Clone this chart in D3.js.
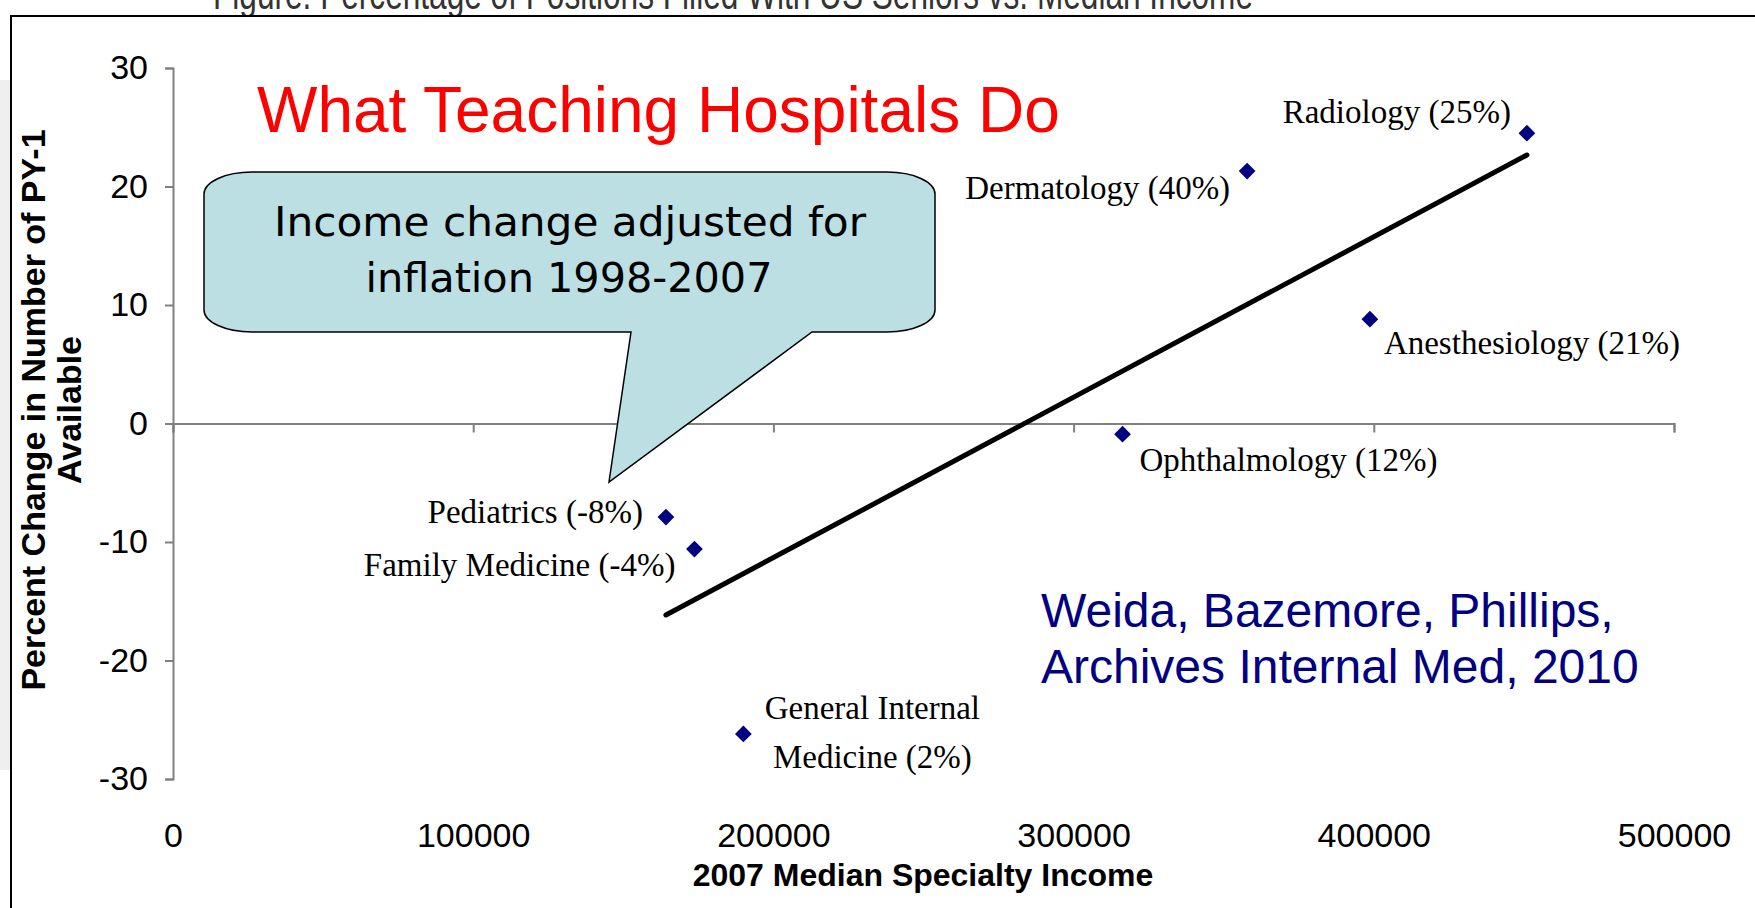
<!DOCTYPE html>
<html>
<head>
<meta charset="utf-8">
<script src="https://cdn.jsdelivr.net/npm/d3@7"></script>
<style>
    html, body { margin: 0; padding: 0; background: #fff; }
    svg { display: block; }
</style>
</head>
<body>
<svg id="chart" width="1755" height="908"></svg>
<script>
const specialties = [
    'Radiology',
    'Dermatology',
    'Anesthesiology',
    'Ophthalmology',
    'Pediatrics',
    'Family Medicine',
    'General Internal Medicine'
];
const medianIncome2007 = [451000, 357800, 398700, 316300, 164200, 173700, 190000];
const pctChangePY1 = [24.5, 21.3, 8.8, -0.9, -7.9, -10.6, -26.2];
const incomeChange = [25, 40, 21, 12, -8, -4, 2];

const xTicks = [0, 100000, 200000, 300000, 400000, 500000];
const yTicks = [-30, -20, -10, 0, 10, 20, 30];

const width = 1755;
const height = 908;

// where each label sits relative to its marker
const labelLayout = {
    'Radiology': { anchor: 'end', dx: -16, dy: [-10] },
    'Dermatology': { anchor: 'end', dx: -17, dy: [28] },
    'Anesthesiology': { anchor: 'start', dx: 14, dy: [35] },
    'Ophthalmology': { anchor: 'start', dx: 17, dy: [37] },
    'Pediatrics': { anchor: 'end', dx: -23, dy: [6] },
    'Family Medicine': { anchor: 'end', dx: -19, dy: [27] },
    'General Internal Medicine': { anchor: 'middle', dx: 129, dy: [-15, 34], lines: ['General Internal', 'Medicine'] }
};

const points = specialties.map((name, i) => ({
    name,
    income: medianIncome2007[i],
    change: pctChangePY1[i],
    incomeChange: incomeChange[i]
}));

const svg = d3.select('#chart');

const x = d3.scaleLinear()
    .domain([xTicks[0], xTicks[xTicks.length - 1]])
    .range([173, 1674]);

const y = d3.scaleLinear()
    .domain([yTicks[0], yTicks[yTicks.length - 1]])
    .range([779, 68]);

const axisColor = '#808080';
const sans = 'Liberation Sans, Arial, Helvetica, sans-serif';
const serif = 'Liberation Serif, Times New Roman, serif';

// slide title, mostly hidden behind the top of the frame
svg.append('clipPath')
    .attr('id', 'topClip')
    .append('rect')
    .attr('x', 0).attr('y', 0)
    .attr('width', width).attr('height', 16);

svg.append('text')
    .attr('clip-path', 'url(#topClip)')
    .attr('x', 213)
    .attr('y', 9)
    .attr('font-family', sans)
    .attr('font-size', 44)
    .attr('fill', '#333')
    .attr('textLength', 1040)
    .attr('lengthAdjust', 'spacingAndGlyphs')
    .text('Figure: Percentage of Positions Filled With US Seniors vs. Median Income');

svg.append('rect')
    .attr('x', 0).attr('y', 80)
    .attr('width', 10).attr('height', 690)
    .attr('fill', '#efefef');

svg.append('path')
    .attr('d', `M11,${height}V16H${width}`)
    .attr('fill', 'none')
    .attr('stroke', '#000')
    .attr('stroke-width', 2);

const plainNumber = d => String(d);

// y axis
svg.append('g')
    .attr('class', 'y-axis')
    .attr('transform', `translate(${x(0)},0)`)
    .call(d3.axisLeft(y).tickValues(yTicks).tickSize(8).tickSizeOuter(8).tickPadding(17).tickFormat(plainNumber))
    .call(g => g.selectAll('path, line').attr('stroke', axisColor).attr('stroke-width', 2))
    .call(g => g.selectAll('text')
        .attr('font-family', sans)
        .attr('font-size', 34)
        .attr('fill', '#000'));

// x axis sits on the zero line, labels at the bottom
svg.append('g')
    .attr('class', 'x-axis')
    .attr('transform', `translate(0,${y(0)})`)
    .call(d3.axisBottom(x).tickValues(xTicks).tickSize(9).tickSizeOuter(9).tickFormat(''))
    .call(g => g.selectAll('path, line').attr('stroke', axisColor).attr('stroke-width', 2));

svg.append('g')
    .attr('class', 'x-labels')
    .attr('transform', 'translate(0,815)')
    .call(d3.axisBottom(x).tickValues(xTicks).tickSize(0).tickPadding(8).tickFormat(plainNumber))
    .call(g => g.select('.domain').remove())
    .call(g => g.selectAll('text')
        .attr('font-family', sans)
        .attr('font-size', 34)
        .attr('fill', '#000'));

svg.append('text')
    .attr('x', 923)
    .attr('y', 886)
    .attr('text-anchor', 'middle')
    .attr('font-family', sans)
    .attr('font-size', 32)
    .attr('font-weight', 'bold')
    .text('2007 Median Specialty Income');

const yTitle = svg.append('text')
    .attr('transform', 'translate(0,410) rotate(-90)')
    .attr('text-anchor', 'middle')
    .attr('font-family', sans)
    .attr('font-size', 34)
    .attr('font-weight', 'bold');

yTitle.append('tspan').attr('x', 0).attr('y', 45).text('Percent Change in Number of PY-1');
yTitle.append('tspan').attr('x', 0).attr('y', 81).text('Available');

// linear trendline (least squares), drawn over the x extent of the data
const meanX = d3.mean(points, d => d.income);
const meanY = d3.mean(points, d => d.change);
const slope = d3.sum(points, d => (d.income - meanX) * (d.change - meanY)) /
    d3.sum(points, d => (d.income - meanX) ** 2);
const trend = d3.extent(points, d => d.income)
    .map(v => ({ income: v, change: meanY + slope * (v - meanX) }));

svg.append('path')
    .datum(trend)
    .attr('d', d3.line().x(d => x(d.income)).y(d => y(d.change)))
    .attr('fill', 'none')
    .attr('stroke', '#000')
    .attr('stroke-width', 5)
    .attr('stroke-linecap', 'round');

// markers
svg.append('g')
    .selectAll('path')
    .data(points)
    .join('path')
    .attr('d', d3.symbol(d3.symbolSquare, 140))
    .attr('transform', d => `translate(${x(d.income)},${y(d.change)}) rotate(45)`)
    .attr('fill', '#000080');

// point labels
const labels = svg.append('g')
    .selectAll('text')
    .data(points)
    .join('text')
    .attr('font-family', serif)
    .attr('font-size', 33)
    .attr('fill', '#000')
    .attr('text-anchor', d => labelLayout[d.name].anchor);

labels.each(function (d) {
    const lay = labelLayout[d.name];
    const suffix = ` (${d.incomeChange}%)`;
    const lines = lay.lines ? lay.lines.map((l, i) => i === lay.lines.length - 1 ? l + suffix : l) : [d.name + suffix];
    d3.select(this)
        .selectAll('tspan')
        .data(lines)
        .join('tspan')
        .attr('x', x(d.income) + lay.dx)
        .attr('y', (l, i) => y(d.change) + lay.dy[i])
        .text(l => l);
});

// headline
svg.append('text')
    .attr('x', 257)
    .attr('y', 132)
    .attr('font-family', sans)
    .attr('font-size', 64)
    .attr('fill', '#ff0000')
    .text('What Teaching Hospitals Do');

// callout
const box = { x0: 204, x1: 935, y0: 172, y1: 332, rx: 48, ry: 22 };
const wedge = { left: 631, right: 812, tipX: 609, tipY: 482 };
const calloutPath = [
    `M${box.x0 + box.rx},${box.y0}`,
    `H${box.x1 - box.rx}`,
    `A${box.rx},${box.ry} 0 0 1 ${box.x1},${box.y0 + box.ry}`,
    `V${box.y1 - box.ry}`,
    `A${box.rx},${box.ry} 0 0 1 ${box.x1 - box.rx},${box.y1}`,
    `H${wedge.right}`,
    `L${wedge.tipX},${wedge.tipY}`,
    `L${wedge.left},${box.y1}`,
    `H${box.x0 + box.rx}`,
    `A${box.rx},${box.ry} 0 0 1 ${box.x0},${box.y1 - box.ry}`,
    `V${box.y0 + box.ry}`,
    `A${box.rx},${box.ry} 0 0 1 ${box.x0 + box.rx},${box.y0}`,
    'Z'
].join('');

svg.append('path')
    .attr('d', calloutPath)
    .attr('fill', '#bbdfe3')
    .attr('stroke', '#000')
    .attr('stroke-width', 1.5);

const callText = svg.append('text')
    .attr('text-anchor', 'middle')
    .attr('font-family', 'DejaVu Sans Condensed, DejaVu Sans, sans-serif')
    .attr('font-size', 41)
    .attr('fill', '#000');

callText.append('tspan')
    .attr('x', 570).attr('y', 236)
    .attr('textLength', 592).attr('lengthAdjust', 'spacingAndGlyphs')
    .text('Income change adjusted for');
callText.append('tspan')
    .attr('x', 569).attr('y', 292)
    .attr('textLength', 407).attr('lengthAdjust', 'spacingAndGlyphs')
    .text('inflation 1998-2007');

// citation
const cite = svg.append('text')
    .attr('font-family', sans)
    .attr('font-size', 48)
    .attr('fill', '#000080');

cite.append('tspan').attr('x', 1041).attr('y', 627).text('Weida, Bazemore, Phillips,');
cite.append('tspan').attr('x', 1041).attr('y', 683).text('Archives Internal Med, 2010');
</script>
</body>
</html>
